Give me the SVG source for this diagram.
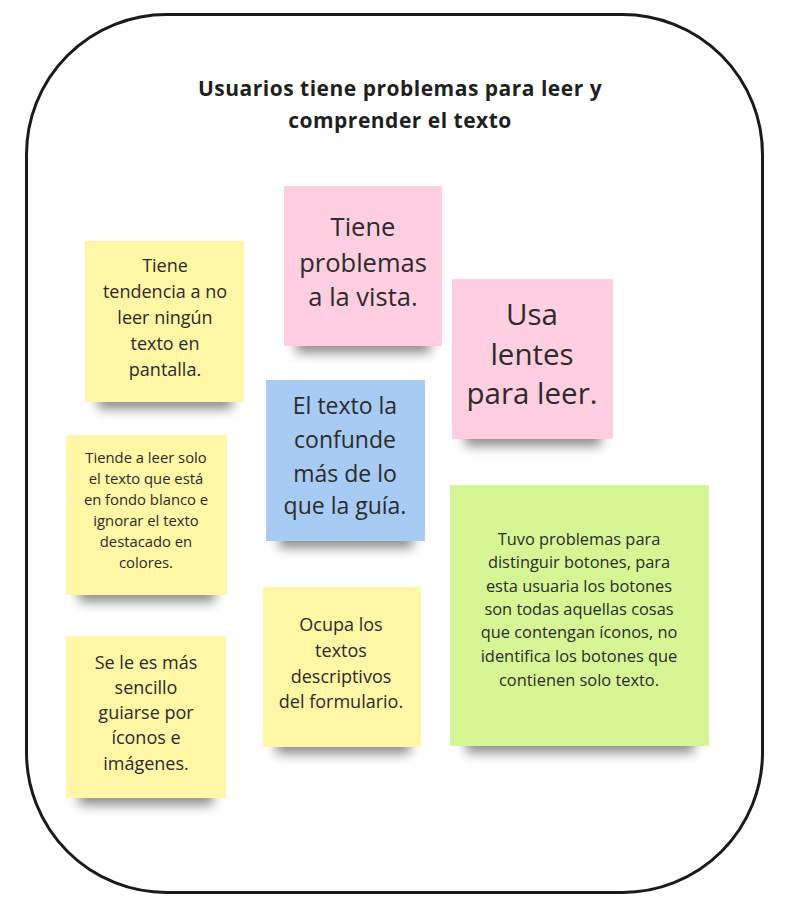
<svg xmlns="http://www.w3.org/2000/svg" width="788" height="910" viewBox="0 0 788 910">
<defs>
<filter id="sh" x="-20%" y="-80%" width="140%" height="350%"><feGaussianBlur stdDeviation="6"/></filter>
<style>
.t{font-family:"Open Sans","Noto Sans","DejaVu Sans",sans-serif;fill:#2b2b2b;text-anchor:middle}
.title{font-weight:700;font-size:21px;letter-spacing:0.5px;fill:#1f1f1f}
.shd{fill:#000;opacity:0.45;filter:url(#sh)}
.y{fill:#fff6a6}
.p{fill:#ffcee0}
.b{fill:#a7cbf3}
.g{fill:#d6f595}
</style>
</defs>
<rect x="0" y="0" width="788" height="910" fill="#fff"/>
<rect id="frame" x="26.5" y="14.5" width="736" height="878" rx="140" ry="140" fill="#fff" stroke="#1a1a1a" stroke-width="3"/>
<g id="title"><text class="t title" x="400" y="96">Usuarios tiene problemas para leer y</text><text class="t title" x="400" y="128">comprender el texto</text></g>

<g id="n1"><rect class="shd" x="98" y="391" width="134" height="18"/><rect class="y" x="85" y="241" width="159" height="161"/>
<text class="t" font-size="18"><tspan x="165" y="272">Tiene</tspan><tspan x="165" y="298">tendencia a no</tspan><tspan x="165" y="324">leer ningún</tspan><tspan x="165" y="350">texto en</tspan><tspan x="165" y="376">pantalla.</tspan></text></g>

<g id="n2"><rect class="shd" x="296" y="335" width="134" height="18"/><rect class="p" x="284" y="186" width="158" height="160"/>
<text class="t" font-size="25.5"><tspan x="363" y="236">Tiene</tspan><tspan x="363" y="272">problemas</tspan><tspan x="363" y="306">a la vista.</tspan></text></g>

<g id="n3"><rect class="shd" x="465" y="428" width="136" height="18"/><rect class="p" x="452" y="279" width="161" height="160"/>
<text class="t" font-size="29.5"><tspan x="532" y="325">Usa</tspan><tspan x="532" y="365">lentes</tspan><tspan x="532" y="404">para leer.</tspan></text></g>

<g id="n4"><rect class="shd" x="279" y="530" width="134" height="18"/><rect class="b" x="266" y="380" width="159" height="161"/>
<text class="t" font-size="23"><tspan x="345" y="414">El texto la</tspan><tspan x="345" y="448">confunde</tspan><tspan x="345" y="482">más de lo</tspan><tspan x="345" y="514">que la guía.</tspan></text></g>

<g id="n5"><rect class="shd" x="79" y="584" width="136" height="18"/><rect class="y" x="66" y="435" width="161" height="160"/>
<text class="t" font-size="14.8"><tspan x="146" y="463">Tiende a leer solo</tspan><tspan x="146" y="484">el texto que está</tspan><tspan x="146" y="505">en fondo blanco e</tspan><tspan x="146" y="526">ignorar el texto</tspan><tspan x="146" y="547">destacado en</tspan><tspan x="146" y="568">colores.</tspan></text></g>

<g id="n6"><rect class="shd" x="466" y="733" width="228" height="20"/><rect class="g" x="450" y="485" width="259" height="261"/>
<text class="t" font-size="16.4"><tspan x="579" y="545">Tuvo problemas para</tspan><tspan x="579" y="568">distinguir botones, para</tspan><tspan x="579" y="592">esta usuaria los botones</tspan><tspan x="579" y="615">son todas aquellas cosas</tspan><tspan x="579" y="638">que contengan íconos, no</tspan><tspan x="579" y="662">identifica los botones que</tspan><tspan x="579" y="686">contienen solo texto.</tspan></text></g>

<g id="n7"><rect class="shd" x="276" y="736" width="134" height="18"/><rect class="y" x="263" y="587" width="158" height="160"/>
<text class="t" font-size="18"><tspan x="341" y="631">Ocupa los</tspan><tspan x="341" y="657">textos</tspan><tspan x="341" y="683">descriptivos</tspan><tspan x="341" y="708">del formulario.</tspan></text></g>

<g id="n8"><rect class="shd" x="79" y="787" width="134" height="18"/><rect class="y" x="66" y="636" width="160" height="162"/>
<text class="t" font-size="18"><tspan x="146" y="669">Se le es más</tspan><tspan x="146" y="694">sencillo</tspan><tspan x="146" y="719">guiarse por</tspan><tspan x="146" y="744">íconos e</tspan><tspan x="146" y="770">imágenes.</tspan></text></g>
</svg>
